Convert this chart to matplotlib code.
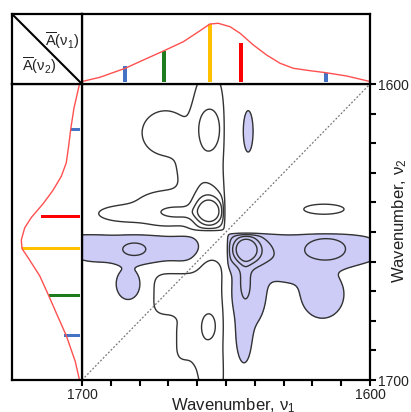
import numpy as np
import matplotlib
matplotlib.use("Agg")
import matplotlib.pyplot as plt

plt.rcParams["font.family"] = ["Liberation Sans", "DejaVu Sans"]
plt.rcParams["mathtext.fontset"] = "custom"
plt.rcParams["mathtext.rm"] = "Liberation Sans"
plt.rcParams["mathtext.it"] = "Liberation Sans"

# average spectrum (wavenumber, absorbance in arbitrary units)
spec_nu = [1700, 1693.8, 1685, 1678.7, 1671.5, 1664.8, 1659, 1655.6, 1652.7, 1648.6,
           1645.1, 1640.5, 1635.9, 1631.2, 1626.6, 1620.8, 1615.3, 1608.1, 1600]
spec_abs = [0.0, 4.2, 13.2, 21.5, 30.8, 39.8, 50.8, 57.5, 58.2, 54.8,
            48.2, 36.5, 26.5, 18.2, 13.2, 10.8, 8.8, 5.5, 0.0]

# band positions and heights
band_nu = [1685, 1671.5, 1655.5, 1644.8, 1615.3]
band_h = [15.5, 30.8, 57.5, 38.8, 8.2]
band_colors = ["#4472c4", "#1e7b1e", "#ffc000", "#ff0000", "#4472c4"]

# asynchronous map: cross-peak lobes (nu1, nu2, width1, width2, amplitude, shape power)
# gated: lobe lives only in the nu1 > 1650, nu2 < 1650 quadrant
# mirrored: lobe gets its antisymmetric partner at (nu2, nu1)
lobe_nu1 = [1655.8, 1656.5, 1655.7, 1656.0, 1671.0, 1661.0, 1670.0, 1686.0, 1667.0,
            1683.0, 1700.0, 1663.0, 1681.8, 1642.3, 1684.0, 1667.0, 1662.0]
lobe_nu2 = [1643.3, 1638.0, 1615.2, 1625.0, 1616.5, 1629.0, 1642.0, 1643.8, 1643.4,
            1655.5, 1654.0, 1655.5, 1655.8, 1616.0, 1667.5, 1671.0, 1686.0]
lobe_w1 = [3.4, 4.0, 3.2, 4.5, 6.0, 4.5, 8.0, 6.0, 5.0,
           15.0, 6.0, 4.0, 4.0, 1.6, 3.5, 7.0, 5.0]
lobe_w2 = [3.3, 5.0, 5.9, 26.0, 5.5, 5.0, 4.0, 1.8, 1.6,
           4.5, 3.5, 3.5, 2.1, 6.6, 4.5, 6.0, 7.0]
lobe_amp = [1.0, 0.2, 0.35, 0.07, 0.1, 0.08, 0.12, 0.1, 0.25,
            -0.065, -0.06, -0.06, -0.3, -0.07, -0.08, 0.1, 0.07]
lobe_pow = [2, 2, 2, 4, 2, 2, 2, 2, 2, 4, 2, 2, 2, 2, 2, 4, 4]
lobe_gated = [1, 1, 1, 1, 1, 1, 1, 1, 1, 0, 0, 0, 0, 0, 0, 0, 0]
lobe_mirrored = [1, 1, 1, 1, 1, 1, 1, 1, 1, 1, 1, 1, 1, 1, 0, 0, 0]
zero_nu = 1650.0
levels = [0.04, 0.25, 0.5, 0.75]

LAVENDER = "#ccccf7"
LINE = "#333333"


def step(v):
    return 1.0 / (1.0 + np.exp(-v / 0.4))


def lobe(a, b, i):
    term = lobe_amp[i] * np.exp(-0.5 * np.abs((a - lobe_nu1[i]) / lobe_w1[i]) ** lobe_pow[i]
                                - 0.5 * np.abs((b - lobe_nu2[i]) / lobe_w2[i]) ** lobe_pow[i])
    if lobe_gated[i]:
        term = term * step(a - zero_nu) * step(zero_nu - b)
    return term


nu = np.linspace(1600, 1700, 601)
X, Y = np.meshgrid(nu, nu)
notch = (1 - np.exp(-((X - zero_nu) / 0.9) ** 2)) * (1 - np.exp(-((Y - zero_nu) / 0.9) ** 2))
psi = np.zeros_like(X)
for i in range(len(lobe_amp)):
    if lobe_mirrored[i]:
        psi += (lobe(X, Y, i) - lobe(Y, X, i)) * notch
    else:
        psi += lobe(X, Y, i)

fig = plt.figure(figsize=(4.11, 4.12), dpi=100)
W, H = 411.0, 412.0
x0, x1, x2 = 12, 82, 370
y0, y1, y2 = 14, 84, 380

ax = fig.add_axes([x1 / W, 1 - y2 / H, (x2 - x1) / W, (y2 - y1) / H])
ax_top = fig.add_axes([x1 / W, 1 - y1 / H, (x2 - x1) / W, (y1 - y0) / H])
ax_left = fig.add_axes([x0 / W, 1 - y2 / H, (x1 - x0) / W, (y2 - y1) / H])
ax_corner = fig.add_axes([x0 / W, 1 - y1 / H, (x1 - x0) / W, (y1 - y0) / H])

for a in (ax, ax_top, ax_left, ax_corner):
    for s in a.spines.values():
        s.set_linewidth(1.6)

# main contour map
ax.contourf(X, Y, psi, levels=[psi.min() - 1, -levels[0]], colors=[LAVENDER])
all_levels = sorted([-v for v in levels] + levels)
ax.contour(X, Y, psi, levels=all_levels, colors=LINE, linewidths=1.0,
           linestyles="solid")
ax.plot([1700, 1600], [1700, 1600], linestyle=(0, (1.5, 1.5)), color="#777777",
        linewidth=0.9)
ax.set_xlim(1700, 1600)
ax.set_ylim(1700, 1600)
ticks = np.arange(1600, 1701, 10)
ax.set_xticks(ticks)
ax.set_xticklabels(["1600" if t == 1600 else "1700" if t == 1700 else "" for t in ticks])
ax.set_yticks(ticks)
ax.set_yticklabels(["1600" if t == 1600 else "1700" if t == 1700 else "" for t in ticks])
ax.yaxis.tick_right()
ax.tick_params(direction="out", length=4, width=1.5, labelsize=10, pad=2,
               labelcolor="#222222")

# top spectrum
ax_top.plot(spec_nu, spec_abs, color="#ff5050", linewidth=1.0)
ax_top.bar(band_nu, band_h, width=1.3, color=band_colors)
ax_top.set_xlim(1700, 1600)
ax_top.set_ylim(-2.5, 67.5)
ax_top.set_xticks([])
ax_top.set_yticks([])

# left spectrum
ax_left.plot(spec_abs, spec_nu, color="#ff5050", linewidth=1.0)
ax_left.barh(band_nu, band_h, height=1.2, color=band_colors)
ax_left.set_xlim(67.5, -2.5)
ax_left.set_ylim(1700, 1600)
ax_left.set_xticks([])
ax_left.set_yticks([])

# corner box
ax_corner.plot([0, 1], [1, 0], color="black", linewidth=1.5)
ax_corner.set_xlim(0, 1)
ax_corner.set_ylim(0, 1)
ax_corner.set_xticks([])
ax_corner.set_yticks([])
ax_corner.text(0.96, 0.62, r"$\overline{\mathrm{A}}(\mathrm{\nu}_1)$", ha="right",
               va="center", fontsize=10.5, color="#222222")
ax_corner.text(0.15, 0.26, r"$\overline{\mathrm{A}}(\mathrm{\nu}_2)$", ha="left",
               va="center", fontsize=10.5, color="#222222")

fig.text(233 / W, 1 - 410 / H, r"Wavenumber, $\mathrm{\nu}_1$", ha="center",
         va="baseline", fontsize=12, color="#222222")
fig.text(400 / W, 1 - 221 / H, r"Wavenumber, $\mathrm{\nu}_2$", ha="center",
         va="center", rotation=90, fontsize=12, color="#222222")

fig.savefig("out.png", dpi=100)
